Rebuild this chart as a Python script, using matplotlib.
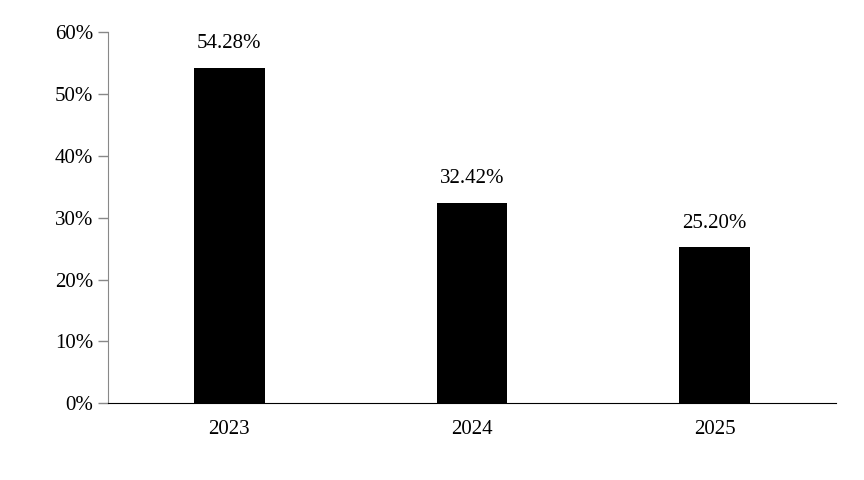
import matplotlib
matplotlib.use("Agg")
import matplotlib.pyplot as plt
from matplotlib.ticker import PercentFormatter

years = ["2023", "2024", "2025"]
values = [54.28, 32.42, 25.20]
labels = ["54.28%", "32.42%", "25.20%"]

plt.rcParams['font.family'] = ['Liberation Serif', 'DejaVu Serif']
fig = plt.figure(figsize=(8.64, 4.8), dpi=100)
ax = fig.add_axes([0.125, 0.160, 0.8426, 0.773])
x = range(len(years))
bars = ax.bar(x, values, width=0.29, color='black')
for xi, v, l in zip(x, values, labels):
    ax.text(xi, v + 2.3, l, ha='center', va='bottom', fontsize=15)
ax.set_xlim(-0.5, 2.5)
ax.set_ylim(0, 60)
ax.set_yticks(range(0, 61, 10))
ax.yaxis.set_major_formatter(PercentFormatter(decimals=0))
ax.set_xticks(list(x))
ax.set_xticklabels(years)
ax.tick_params(axis='y', labelsize=15, color='#888888', length=7, width=1)
ax.tick_params(axis='x', labelsize=15, length=0, pad=12)
for s in ['top', 'right']:
    ax.spines[s].set_visible(False)
ax.spines['left'].set_color('#888888')
ax.spines['bottom'].set_color('black')
fig.savefig("out.png", dpi=100)
